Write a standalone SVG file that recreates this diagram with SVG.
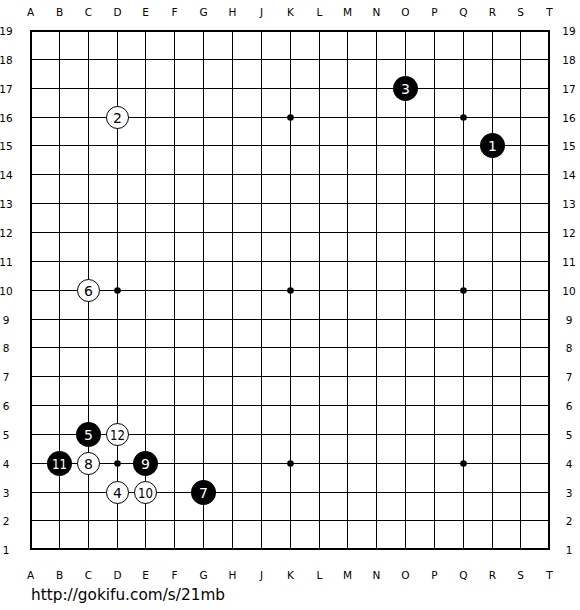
<svg xmlns="http://www.w3.org/2000/svg" width="580" height="610" viewBox="0 0 580 610">
<style>
.g{stroke:#000;stroke-width:1;fill:none}
.lbl{font-family:"DejaVu Sans",Verdana,sans-serif;font-size:10.5px;fill:#000;text-anchor:middle}
.b circle{fill:#000}
.w circle{fill:#fff;stroke:#000;stroke-width:1}
.b text,.w text{font-family:"DejaVu Sans",Verdana,sans-serif;font-size:14px;text-anchor:middle}
.b text{fill:#fff}
.w text{fill:#000}
</style>
<rect width="580" height="610" fill="#fff"/>
<g id="board">
<g class="g">
<path d="M59.5 31V549M88.5 31V549M117.5 31V549M145.5 31V549M174.5 31V549M203.5 31V549M232.5 31V549M261.5 31V549M290.5 31V549M319.5 31V549M347.5 31V549M376.5 31V549M405.5 31V549M434.5 31V549M463.5 31V549M492.5 31V549M520.5 31V549"/>
<path d="M31 59.5H549M31 88.5H549M31 117.5H549M31 145.5H549M31 174.5H549M31 203.5H549M31 232.5H549M31 261.5H549M31 290.5H549M31 319.5H549M31 347.5H549M31 376.5H549M31 405.5H549M31 434.5H549M31 463.5H549M31 492.5H549M31 520.5H549"/>
<rect x="31" y="31" width="518" height="518" stroke-width="2"/>
</g>
<g fill="#000">
<circle cx="117.5" cy="117.5" r="3.3"/><circle cx="290.5" cy="117.5" r="3.3"/><circle cx="463.5" cy="117.5" r="3.3"/>
<circle cx="117.5" cy="290.5" r="3.3"/><circle cx="290.5" cy="290.5" r="3.3"/><circle cx="463.5" cy="290.5" r="3.3"/>
<circle cx="117.5" cy="463.5" r="3.3"/><circle cx="290.5" cy="463.5" r="3.3"/><circle cx="463.5" cy="463.5" r="3.3"/>
</g>
</g>
<g id="col-labels" class="lbl">
<text x="30.5" y="16">A</text><text x="59.5" y="16">B</text><text x="88.5" y="16">C</text><text x="117.5" y="16">D</text><text x="145.5" y="16">E</text><text x="174.5" y="16">F</text><text x="203.5" y="16">G</text><text x="232.5" y="16">H</text><text x="261.5" y="16">J</text><text x="290.5" y="16">K</text><text x="319.5" y="16">L</text><text x="347.5" y="16">M</text><text x="376.5" y="16">N</text><text x="405.5" y="16">O</text><text x="434.5" y="16">P</text><text x="463.5" y="16">Q</text><text x="492.5" y="16">R</text><text x="520.5" y="16">S</text><text x="549.5" y="16">T</text>
<text x="30.5" y="579">A</text><text x="59.5" y="579">B</text><text x="88.5" y="579">C</text><text x="117.5" y="579">D</text><text x="145.5" y="579">E</text><text x="174.5" y="579">F</text><text x="203.5" y="579">G</text><text x="232.5" y="579">H</text><text x="261.5" y="579">J</text><text x="290.5" y="579">K</text><text x="319.5" y="579">L</text><text x="347.5" y="579">M</text><text x="376.5" y="579">N</text><text x="405.5" y="579">O</text><text x="434.5" y="579">P</text><text x="463.5" y="579">Q</text><text x="492.5" y="579">R</text><text x="520.5" y="579">S</text><text x="549.5" y="579">T</text>
</g>
<g id="row-labels" class="lbl">
<text x="6" y="35">19</text><text x="6" y="64">18</text><text x="6" y="93">17</text><text x="6" y="122">16</text><text x="6" y="150">15</text><text x="6" y="179">14</text><text x="6" y="208">13</text><text x="6" y="237">12</text><text x="6" y="266">11</text><text x="6" y="295">10</text><text x="6" y="324">9</text><text x="6" y="352">8</text><text x="6" y="381">7</text><text x="6" y="410">6</text><text x="6" y="439">5</text><text x="6" y="468">4</text><text x="6" y="497">3</text><text x="6" y="525">2</text><text x="6" y="554">1</text>
<text x="569" y="35">19</text><text x="569" y="64">18</text><text x="569" y="93">17</text><text x="569" y="122">16</text><text x="569" y="150">15</text><text x="569" y="179">14</text><text x="569" y="208">13</text><text x="569" y="237">12</text><text x="569" y="266">11</text><text x="569" y="295">10</text><text x="569" y="324">9</text><text x="569" y="352">8</text><text x="569" y="381">7</text><text x="569" y="410">6</text><text x="569" y="439">5</text><text x="569" y="468">4</text><text x="569" y="497">3</text><text x="569" y="525">2</text><text x="569" y="554">1</text>
</g>
<g id="stone-1" class="b"><circle cx="492.5" cy="145.5" r="12.5"/><text x="492.5" y="150.5">1</text></g>
<g id="stone-2" class="w"><circle cx="117.5" cy="117.5" r="11"/><text x="117.5" y="122.5">2</text></g>
<g id="stone-3" class="b"><circle cx="405.5" cy="88.5" r="12.5"/><text x="405.5" y="93.5">3</text></g>
<g id="stone-4" class="w"><circle cx="117.5" cy="492.5" r="11"/><text x="117.5" y="497.5">4</text></g>
<g id="stone-5" class="b"><circle cx="88.5" cy="434.5" r="12.5"/><text x="88.5" y="439.5">5</text></g>
<g id="stone-6" class="w"><circle cx="88.5" cy="290.5" r="11"/><text x="88.5" y="295.5">6</text></g>
<g id="stone-7" class="b"><circle cx="203.5" cy="492.5" r="12.5"/><text x="203.5" y="497.5">7</text></g>
<g id="stone-8" class="w"><circle cx="88.5" cy="463.5" r="11"/><text x="88.5" y="468.5">8</text></g>
<g id="stone-9" class="b"><circle cx="145.5" cy="463.5" r="12.5"/><text x="145.5" y="468.5">9</text></g>
<g id="stone-10" class="w"><circle cx="145.5" cy="492.5" r="11"/><text x="145.5" y="497.5" textLength="15" lengthAdjust="spacingAndGlyphs">10</text></g>
<g id="stone-11" class="b"><circle cx="59.5" cy="463.5" r="12.5"/><text x="59.5" y="468.5" textLength="15" lengthAdjust="spacingAndGlyphs">11</text></g>
<g id="stone-12" class="w"><circle cx="117.5" cy="434.5" r="11"/><text x="117.5" y="439.5" textLength="15" lengthAdjust="spacingAndGlyphs">12</text></g>
<text id="url" x="31" y="600" font-family="DejaVu Sans, Verdana, sans-serif" font-size="16.5" fill="#000" textLength="194" lengthAdjust="spacingAndGlyphs">http://gokifu.com/s/21mb</text>
</svg>
